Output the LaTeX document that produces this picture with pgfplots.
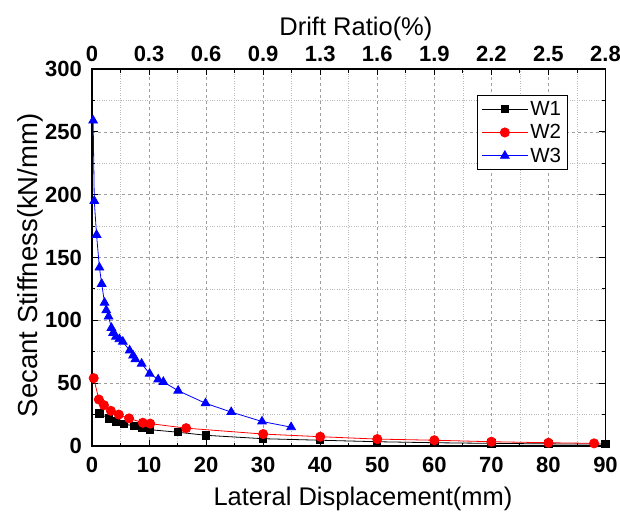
\documentclass[border=0pt]{standalone}
\usepackage{pgfplots}
\pgfplotsset{compat=1.18}
\usepackage{fontspec}
\setmainfont{Liberation Sans}
\begin{document}
\begin{tikzpicture}
\begin{axis}[
  at={(0,0)}, anchor=south west,
  scale only axis, width=513.5pt, height=377pt,
  xmin=0, xmax=90, ymin=0, ymax=300,
  xtick={0,10,...,90}, ytick={0,50,...,300},
  minor x tick num=1, minor y tick num=1,
  tick align=inside,
  major tick length=6pt, minor tick length=3.5pt,
  grid=both,
  major grid style={gray!75, dashed, line width=0.6pt},
  minor grid style={gray!55, dotted, line width=0.7pt},
  axis line style={line width=1.1pt},
  tick style={line width=0.9pt, black},
  /pgf/number format/assume math mode=true,
  ticklabel style={font=\fontsize{22}{22}\selectfont\bfseries},
  xticklabel style={anchor=base, yshift=-26pt, inner sep=0pt},
  yticklabel style={anchor=east, xshift=-10pt, inner sep=0pt},
  xlabel={Lateral Displacement(mm)},
  ylabel={Secant Stiffness(kN/mm)},
  xlabel style={font=\fontsize{25.5}{25.5}\selectfont, at={(axis description cs:0.5278,0)}, anchor=base, yshift=-59pt, inner sep=0pt},
  ylabel style={font=\fontsize{27.5}{27.5}\selectfont, at={(axis description cs:-0.1071,0.479)}, anchor=base, inner sep=0pt},
  legend style={at={(0.7498,0.931)}, anchor=north west, draw=black, line width=0.9pt,
    font=\fontsize{20.5}{20.5}\selectfont, row sep=3.5pt, inner xsep=4pt, inner ysep=4pt},
  legend cell align=left,
  legend image code/.code={\draw[mark repeat=2,mark phase=2] plot coordinates {(0pt,0pt) (23pt,0pt) (46pt,0pt)};},
]
\addplot[black, line width=0.8pt, mark=square*, mark size=3.6pt, mark options={solid}] coordinates {
(1.3,26) (2.9,22) (4.2,19.5) (5.6,17.5) (7.3,16) (8.8,14.5) (10.1,13) (15,11) (20,8.5) (30,5.8) (40,4.6) (50,3.4) (60,2.6) (70,2.1) (80,1.7) (90,1.5)};
\addlegendentry{W1}
\addplot[red, line width=0.8pt, mark=*, mark size=4.6pt] coordinates {
(0.3,54) (1.2,37) (2.1,32.5) (3.3,28) (4.7,25) (6.5,22) (8.9,18.5) (10.2,17.8) (16.5,14.2) (30,9.5) (40,7.4) (50,5.5) (60,4.6) (70,3.4) (80,2.6) (88,2.1)};
\addlegendentry{W2}
\addplot[blue, line width=0.8pt, mark=triangle*, mark size=5pt] coordinates {
(0.2,259) (0.4,195) (0.8,168) (1.3,142) (1.7,129) (2.2,114) (2.5,108) (2.9,103) (3.4,94) (3.7,90) (4.2,87) (4.8,85) (5.4,83) (6.6,76) (7.2,72) (7.6,69) (8.7,65.5) (10.1,57.5) (11.6,53) (12.5,51) (15.1,44) (19.9,34) (24.4,27) (29.8,19.5) (34.9,15)};
\addlegendentry{W3}
\end{axis}
\begin{axis}[
  at={(0,0)}, anchor=south west,
  scale only axis, width=513.5pt, height=377pt,
  xmin=0, xmax=90, ymin=0, ymax=300,
  axis x line*=top, axis y line=none,
  axis line style={draw=none},
  xtick={0,10,...,90},
  xticklabels={0,0.3,0.6,0.9,1.3,1.6,1.9,2.2,2.5,2.8},
  xtick style={draw=none},
  ticklabel style={font=\fontsize{22}{22}\selectfont\bfseries},
  xticklabel style={anchor=base, yshift=7.3pt, inner sep=0pt},
  xlabel={Drift Ratio(\%)},
  xlabel style={font=\fontsize{25.5}{25.5}\selectfont, at={(axis description cs:0.514,1)}, anchor=base, yshift=33pt, inner sep=0pt},
]
\end{axis}
\pgfresetboundingbox
\useasboundingbox (-92pt,-68pt) rectangle (528pt,446pt);
\end{tikzpicture}
\end{document}
